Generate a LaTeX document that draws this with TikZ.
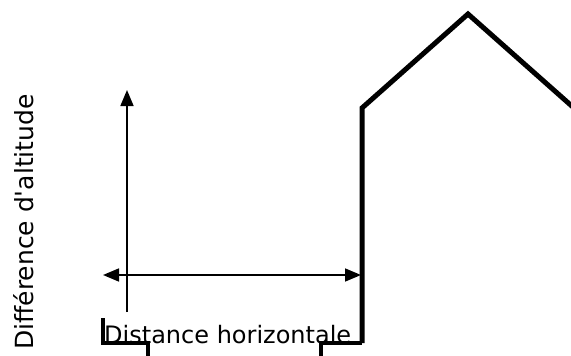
\documentclass[tikz,border=0pt]{standalone}
\usepackage{fontspec}
\newfontfamily\labelfont{DejaVu Sans}
\usetikzlibrary{arrows.meta}

\begin{document}
\begin{tikzpicture}[
    x=1pt, y=-1pt,
    wall/.style={line width=5pt, line join=miter},
    foot/.style={line width=4.5pt},
    dim/.style={line width=1.7pt, {Triangle[length=16pt,width=13pt]}-{Triangle[length=16pt,width=13pt]}},
    up/.style={line width=1.7pt, -{Triangle[length=16pt,width=13pt]}},
    lbl/.style={inner sep=0pt, font=\labelfont\fontsize{24}{28}\selectfont},
]
\useasboundingbox (0,0) rectangle (571,356);

% ---------------------------------------------------------------- house
\coordinate (base)  at (362,343);
\coordinate (eave)  at (362,108);
\coordinate (peak)  at (468,14);
\coordinate (right) at (574,108);
\draw [wall] (base) -- (eave) -- (peak) -- (right);

% ---------------------------------------------------------------- ground marks
\coordinate (lfoot) at (103,318);
\coordinate (lcorn) at (103,343);
\coordinate (ltick) at (148,343);
\coordinate (rtick) at (321,343);
\draw [foot] (lfoot) -- (lcorn) -- (ltick) -- ++(0,14);
\draw [foot] (rtick) ++(0,14) -- (rtick) -- (base);

% ---------------------------------------------------------------- arrows
\coordinate (vbot) at (127,312);
\coordinate (vtop) at (127,90);
\coordinate (hl)   at (103,275);
\coordinate (hr)   at (361,275);
\draw [up]  (vbot) -- (vtop);
\draw [dim] (hl) -- (hr);

% ---------------------------------------------------------------- labels
\node (dist) [lbl, anchor=base west] at (104,343) {Distance horizontale};
\node (alt)  [lbl, anchor=base, rotate=90, font=\labelfont\fontsize{25}{28}\selectfont] at (33,222) {Différence d'altitude};
\end{tikzpicture}
\end{document}
